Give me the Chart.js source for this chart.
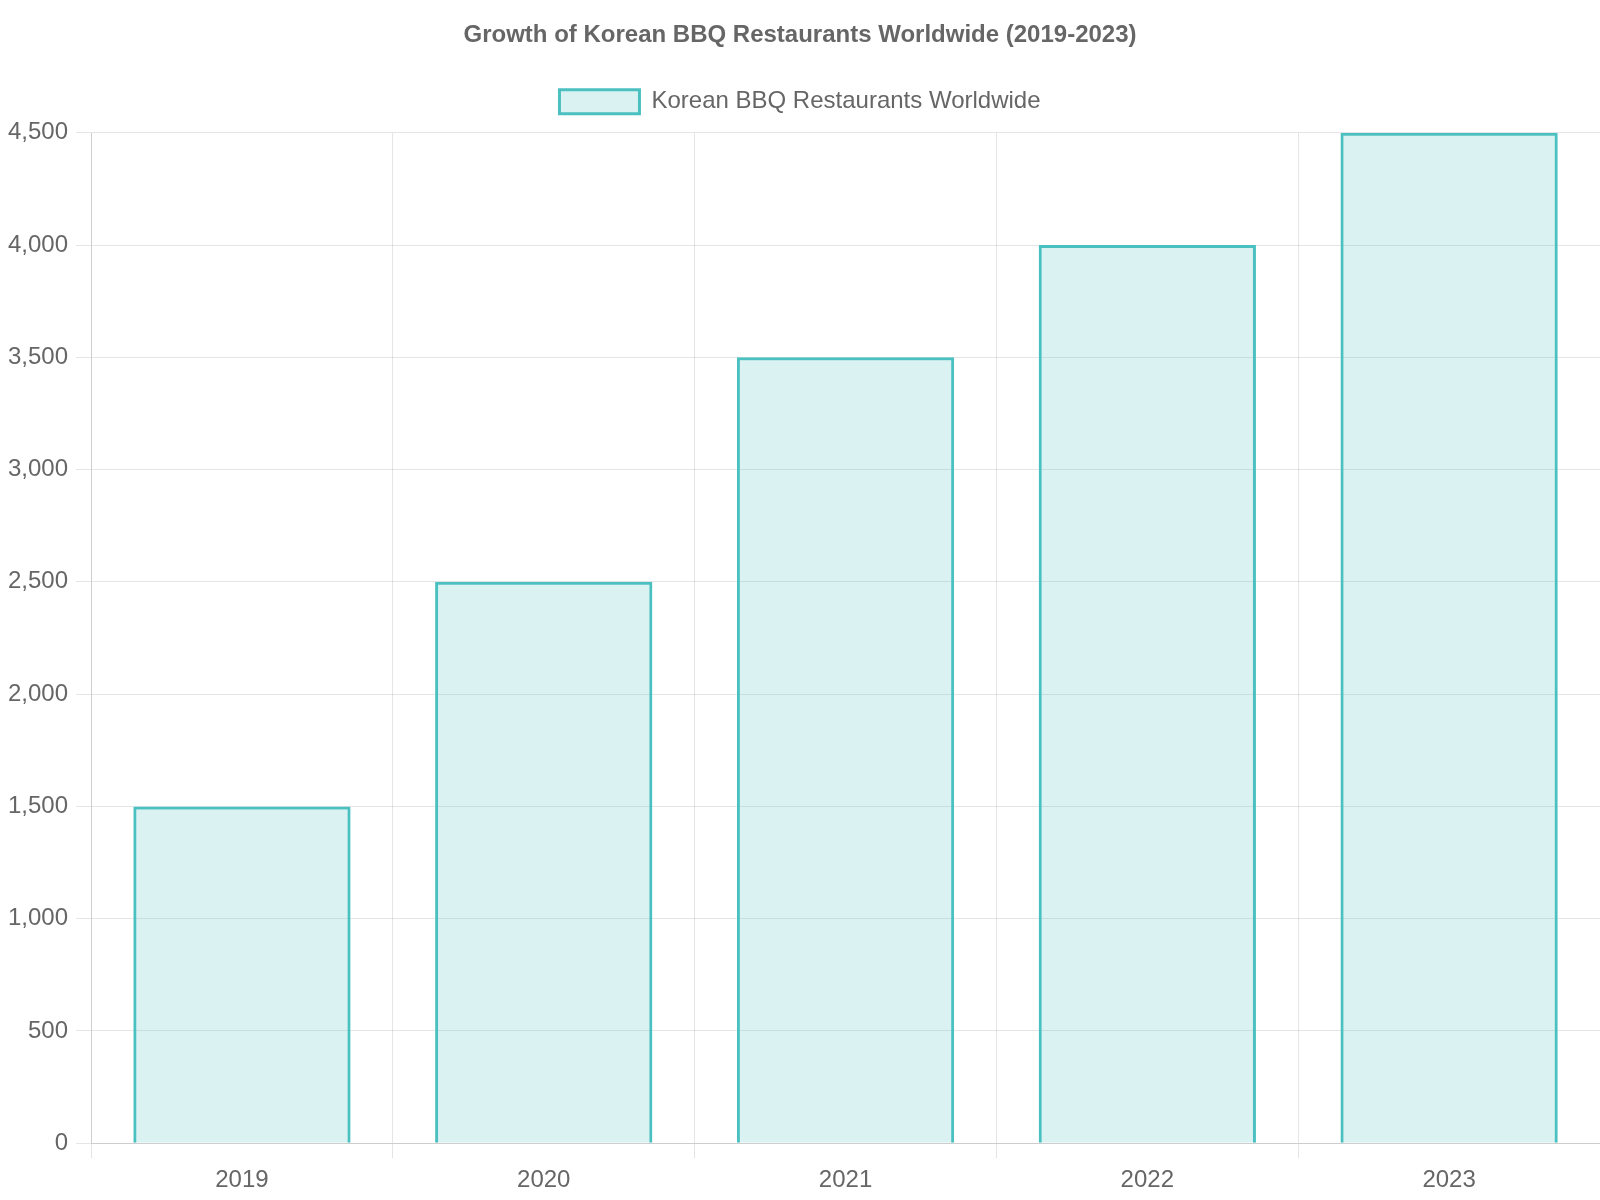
<!DOCTYPE html>
<html>
<head>
<meta charset="utf-8">
<script src="https://cdn.jsdelivr.net/npm/chart.js@4"></script>
<style>
  html, body { margin: 0; padding: 0; background: #fff; }
  #wrap { width: 1600px; height: 1200px; }
</style>
</head>
<body>
<div id="wrap"><canvas id="chart"></canvas></div>
<script>
const years = ['2019', '2020', '2021', '2022', '2023'];
const restaurants = [1500, 2500, 3500, 4000, 4500];
const seriesLabel = 'Korean BBQ Restaurants Worldwide';
const chartTitle = 'Growth of Korean BBQ Restaurants Worldwide (2019-2023)';

Chart.defaults.font.family = "'Liberation Sans', Arial, sans-serif";
Chart.defaults.font.size = 24;
Chart.defaults.color = '#666';

// extra gap between legend and plot area
const legendGap = {
	id: 'legendGap',
	beforeInit(chart) {
		const fit = chart.legend.fit;
		chart.legend.fit = function () {
			fit.call(this);
			this.height += 9;
		};
	}
};

const ctx = document.getElementById('chart').getContext('2d');

new Chart(ctx, {
	type: 'bar',
	data: {
		labels: years,
		datasets: [{
			label: seriesLabel,
			data: restaurants,
			backgroundColor: 'rgba(75, 192, 192, 0.2)',
			borderColor: 'rgba(75, 192, 192, 1)',
			borderWidth: 3,
		}]
	},
	options: {
		responsive: true,
		maintainAspectRatio: false,
		animation: false,
		layout: { padding: { bottom: -3 } },
		plugins: {
			title: {
				display: true,
				text: chartTitle,
				padding: { top: 21, bottom: 20 },
			},
			legend: {
				labels: { boxWidth: 80, padding: 20 }
			}
		},
		scales: {
			x: {
				grid: { tickLength: 15 },
				ticks: { padding: 8 }
			},
			y: {
				beginAtZero: true,
				grid: { tickLength: 15 },
				ticks: { padding: 8 }
			}
		}
	},
	plugins: [legendGap]
});
</script>
</body>
</html>
